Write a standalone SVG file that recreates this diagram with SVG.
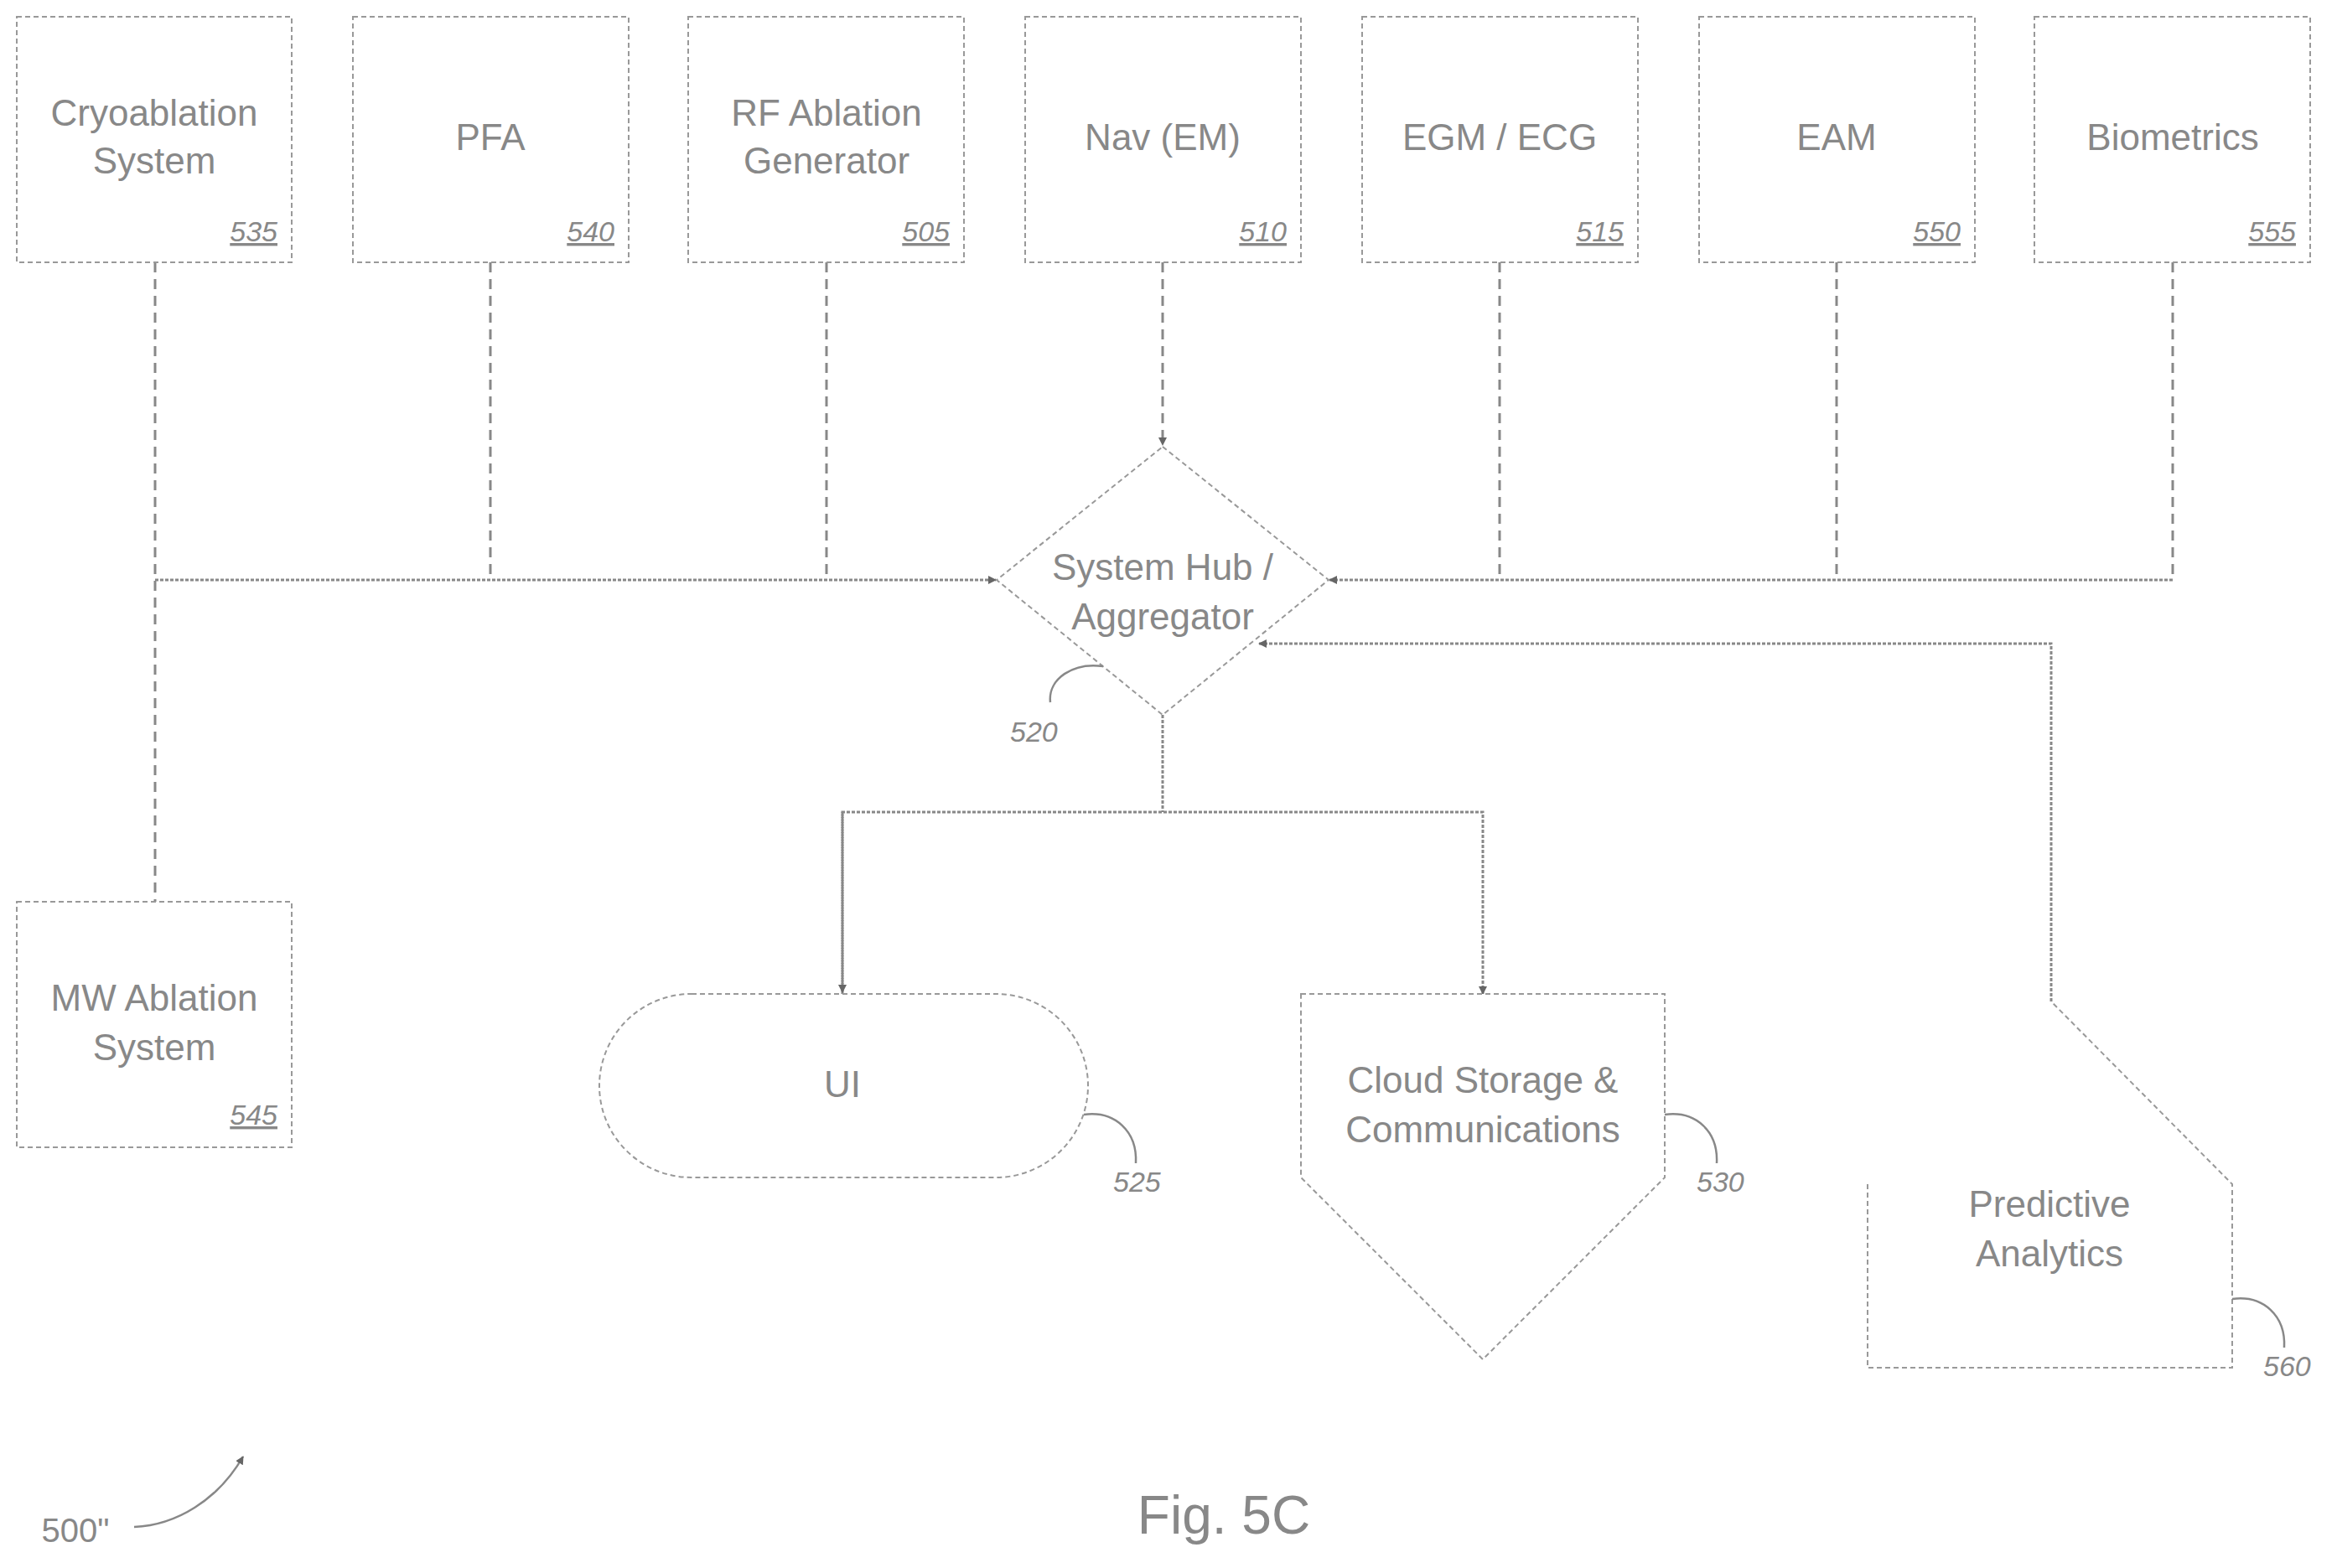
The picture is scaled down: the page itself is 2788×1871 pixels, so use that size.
<svg xmlns="http://www.w3.org/2000/svg" width="2788" height="1871" viewBox="0 0 2788 1871">
<style>
.b{fill:#fff;stroke:#999;stroke-width:2;stroke-dasharray:6,4}
.t{font-family:"Liberation Sans",Arial,sans-serif;font-size:44px;fill:#888;text-anchor:middle}
.n{font-family:"Liberation Sans",Arial,sans-serif;font-size:34px;fill:#888;font-style:italic;text-decoration:underline;text-anchor:end}
.r{font-family:"Liberation Sans",Arial,sans-serif;font-size:34px;fill:#888;font-style:italic}
.c{fill:none;stroke:#888;stroke-width:3;stroke-dasharray:12,8}
.s{fill:none;stroke:#888;stroke-width:3;stroke-dasharray:4,2}
.l{fill:none;stroke:#888;stroke-width:2.5}
</style>
<defs><marker id="a" markerWidth="10" markerHeight="10" refX="9" refY="5" orient="auto" markerUnits="userSpaceOnUse" viewBox="0 0 10 10"><path d="M0,0L10,5L0,10z" fill="#666"/></marker></defs>
<rect width="2788" height="1871" fill="#fff"/>
<g id="edges">
<path class="c" d="M185,313V1076"/>
<path class="c" d="M585,313V692M986,313V692M1789,313V692M2191,313V692M2592,313V692"/>
<path class="s" d="M185,692H1188" marker-end="url(#a)"/>
<path class="s" d="M2592,692H1586" marker-end="url(#a)"/>
<path class="c" d="M1387,313V531" marker-end="url(#a)"/>
<path class="s" d="M2447,1195V768H1502" marker-end="url(#a)"/>
<path class="s" d="M1387,853V969"/>
<path class="s" d="M1005,1186V969H1769V1186" marker-end="url(#a)"/>
<path class="s" d="M1005,969V1184" marker-end="url(#a)"/>
</g>
<g id="n535"><rect class="b" x="20" y="20" width="328" height="293"/><text class="t" x="184" y="150">Cryoablation</text><text class="t" x="184" y="207">System</text><text class="n" x="331" y="288">535</text></g>
<g id="n540"><rect class="b" x="421" y="20" width="329" height="293"/><text class="t" x="585" y="179">PFA</text><text class="n" x="733" y="288">540</text></g>
<g id="n505"><rect class="b" x="821" y="20" width="329" height="293"/><text class="t" x="986" y="150">RF Ablation</text><text class="t" x="986" y="207">Generator</text><text class="n" x="1133" y="288">505</text></g>
<g id="n510"><rect class="b" x="1223" y="20" width="329" height="293"/><text class="t" x="1387" y="179">Nav (EM)</text><text class="n" x="1535" y="288">510</text></g>
<g id="n515"><rect class="b" x="1625" y="20" width="329" height="293"/><text class="t" x="1789" y="179">EGM / ECG</text><text class="n" x="1937" y="288">515</text></g>
<g id="n550"><rect class="b" x="2027" y="20" width="329" height="293"/><text class="t" x="2191" y="179">EAM</text><text class="n" x="2339" y="288">550</text></g>
<g id="n555"><rect class="b" x="2427" y="20" width="329" height="293"/><text class="t" x="2592" y="179">Biometrics</text><text class="n" x="2739" y="288">555</text></g>
<g id="n545"><rect class="b" x="20" y="1076" width="328" height="293"/><text class="t" x="184" y="1206">MW Ablation</text><text class="t" x="184" y="1265">System</text><text class="n" x="331" y="1342">545</text></g>
<g id="n520"><path class="b" stroke-dasharray="30,12" d="M1387,533L1585,692L1387,853L1189,692Z"/><text class="t" x="1387" y="692">System Hub /</text><text class="t" x="1387" y="751">Aggregator</text><path class="l" d="M1253,838C1250,810 1280,790 1316,795"/><text class="r" x="1205" y="885">520</text></g>
<g id="n525"><rect class="b" x="715" y="1186" width="583" height="219" rx="110"/><text class="t" x="1005" y="1309">UI</text><path class="l" d="M1293,1330C1330,1325 1357,1350 1355,1388"/><text class="r" x="1328" y="1422">525</text></g>
<g id="n530"><path class="b" d="M1552,1186H1986V1405L1769,1622L1552,1405Z"/><text class="t" x="1769" y="1304">Cloud Storage &amp;</text><text class="t" x="1769" y="1363">Communications</text><path class="l" d="M1986,1330C2023,1325 2050,1350 2048,1388"/><text class="r" x="2024" y="1422">530</text></g>
<g id="n560"><path class="b" d="M2228,1413V1632H2663V1413L2447,1195"/><text class="t" x="2445" y="1452">Predictive</text><text class="t" x="2445" y="1511">Analytics</text><path class="l" d="M2663,1550C2700,1545 2727,1570 2725,1608"/><text class="r" x="2700" y="1642">560</text></g>
<g id="labels"><text class="t" x="90" y="1840" style="font-size:40px">500"</text><path class="l" d="M160,1822C210,1820 260,1790 290,1738" marker-end="url(#a)"/><text class="t" x="1460" y="1830" style="font-size:64px">Fig. 5C</text></g>
</svg>
